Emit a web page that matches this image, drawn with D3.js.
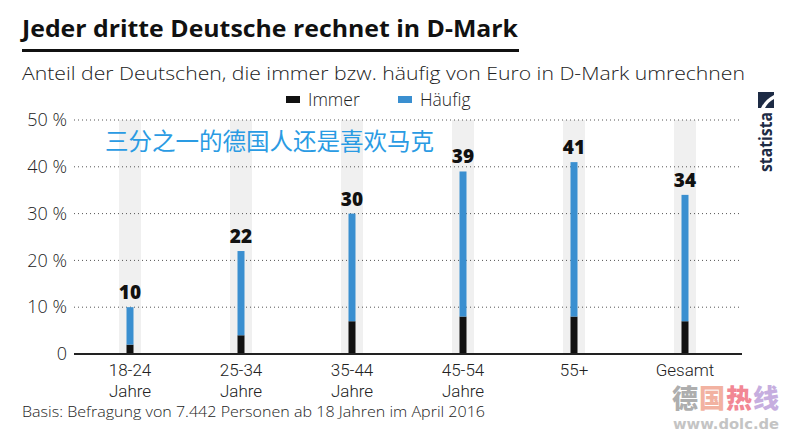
<!DOCTYPE html>
<html><head><meta charset="utf-8">
<script src="https://cdn.jsdelivr.net/npm/d3@7"></script>
<style>body{margin:0;background:#fff;}svg{display:block;font-family:"Open Sans",Lato,sans-serif;}</style>
</head><body>
<svg id="c" width="787" height="436"></svg>
<script>
const categories = [["18-24","Jahre"],["25-34","Jahre"],["35-44","Jahre"],["45-54","Jahre"],["55+"],["Gesamt"]];
const immer = [2, 4, 7, 8, 8, 7];
const total = [10, 22, 30, 39, 41, 34];
const yTicks = [0, 10, 20, 30, 40, 50];
const seriesNames = ["Immer", "Häufig"];
const colors = {Immer: "#111111", "Häufig": "#3a8fd0"};

const svg = d3.select("#c");
const x = d3.scalePoint().domain(d3.range(categories.length)).range([130, 685]);
const y = d3.scaleLinear().domain([0, 50]).range([354, 120]);

// title
svg.append("text").attr("x", 22).attr("y", 37).attr("font-size", 24).attr("font-weight", 700).attr("fill", "#111")
  .attr("textLength", 496).attr("lengthAdjust", "spacingAndGlyphs").text("Jeder dritte Deutsche rechnet in D-Mark");
svg.append("rect").attr("x", 22).attr("y", 49).attr("width", 497).attr("height", 3).attr("fill", "#111");
svg.append("text").attr("x", 22).attr("y", 80).attr("font-size", 19).attr("font-weight", 300).attr("fill", "#222")
  .attr("textLength", 723).attr("lengthAdjust", "spacingAndGlyphs").text("Anteil der Deutschen, die immer bzw. häufig von Euro in D-Mark umrechnen");

// legend
const leg = [{n: "Immer", x: 286}, {n: "Häufig", x: 398}];
leg.forEach(l => {
  svg.append("rect").attr("x", l.x).attr("y", 96).attr("width", 14).attr("height", 7).attr("fill", colors[l.n]);
  svg.append("text").attr("x", l.x + 22).attr("y", 106).attr("font-size", 17.5).attr("font-weight", 300).attr("fill", "#222").text(l.n);
});

// background bands
svg.selectAll(".band").data(categories).enter().append("rect")
  .attr("x", (d, i) => x(i) - 11).attr("width", 22)
  .attr("y", y(50)).attr("height", y(0) - y(50)).attr("fill", "#f0f0f0");

// grid
const grid = svg.append("g");
yTicks.filter(t => t > 0).forEach(t => {
  grid.append("line").attr("x1", 74).attr("x2", 742).attr("y1", y(t)).attr("y2", y(t))
    .attr("stroke", "#555").attr("stroke-width", 1).attr("stroke-dasharray", "1,3");
});
// y labels
const yAxis = d3.axisLeft(y).tickValues(yTicks).tickSize(0).tickPadding(0).tickFormat(d => d === 0 ? "0" : d + " %");
const ya = svg.append("g").attr("transform", "translate(67,0)").call(yAxis);
ya.select(".domain").remove();
ya.selectAll("text").attr("font-size", 18).attr("font-weight", 300).attr("fill", "#222").attr("font-family", "'Open Sans',sans-serif");

// bars
const bw = 7;
svg.selectAll(".imm").data(immer).enter().append("rect")
  .attr("x", (d, i) => x(i) - bw / 2).attr("width", bw)
  .attr("y", d => y(d)).attr("height", d => y(0) - y(d)).attr("fill", colors.Immer);
svg.selectAll(".hf").data(total).enter().append("rect")
  .attr("x", (d, i) => x(i) - bw / 2).attr("width", bw)
  .attr("y", d => y(d)).attr("height", (d, i) => y(immer[i]) - y(d)).attr("fill", colors["Häufig"]);
svg.selectAll(".lbl").data(total).enter().append("text")
  .attr("x", (d, i) => x(i)).attr("y", d => y(d) - 8).attr("text-anchor", "middle")
  .attr("font-size", 19).attr("font-weight", 800).attr("fill", "#111").text(d => d);

// x axis
svg.append("line").attr("x1", 74).attr("x2", 742).attr("y1", y(0)).attr("y2", y(0)).attr("stroke", "#222").attr("stroke-width", 2);
categories.forEach((c, i) => {
  c.forEach((line, j) => {
    svg.append("text").attr("x", x(i)).attr("y", 376 + j * 20.5).attr("text-anchor", "middle")
      .attr("font-family", "Roboto, sans-serif")
      .attr("font-size", 17).attr("font-weight", 300).attr("fill", "#222").text(line);
  });
});

// source
svg.append("text").attr("x", 22).attr("y", 417).attr("font-size", 14.5).attr("font-weight", 300).attr("fill", "#222")
  .attr("textLength", 463).attr("lengthAdjust", "spacingAndGlyphs").text("Basis: Befragung von 7.442 Personen ab 18 Jahren im April 2016");

// chinese overlay
svg.append("text").attr("x", 105).attr("y", 150).attr("font-size", 23.5).attr("font-family", "Noto Sans CJK SC").attr("fill", "#2a9be3").text("三分之一的德国人还是喜欢马克");

// statista logo
const lg = svg.append("g").attr("transform", "translate(758,92)");
lg.append("rect").attr("x", 0).attr("y", 0).attr("width", 16).attr("height", 16).attr("fill", "#1d2b45");
lg.append("path").attr("d", "M3,16 C6,10 10,6 16,3 L16,7 C12,9 9,12 7,16 Z").attr("fill", "#fff");
lg.append("text").attr("transform", "translate(14,20) rotate(-90)").attr("text-anchor", "end").attr("font-size", 17).attr("font-weight", 700).attr("fill", "#1d2b45")
  .attr("textLength", 60).attr("lengthAdjust", "spacingAndGlyphs").text("statista");

// watermark
const wm = [["德", "#9a9a9a"], ["国", "#f0a08a"], ["热", "#f06a7a"], ["线", "#b89ad8"]];
wm.forEach((w, i) => {
  svg.append("text").attr("x", 672 + i * 27).attr("y", 408).attr("font-size", 26).attr("font-weight", 900)
    .attr("font-family", "Noto Sans CJK SC").attr("fill", w[1]).attr("opacity", 0.8).text(w[0]);
});
svg.append("text").attr("x", 673).attr("y", 429).attr("font-size", 14).attr("font-weight", 700).attr("fill", "#c4c4c4").attr("font-family", "DejaVu Sans")
  .attr("textLength", 106).attr("lengthAdjust", "spacingAndGlyphs").text("www.dolc.de");
</script>
</body></html>
